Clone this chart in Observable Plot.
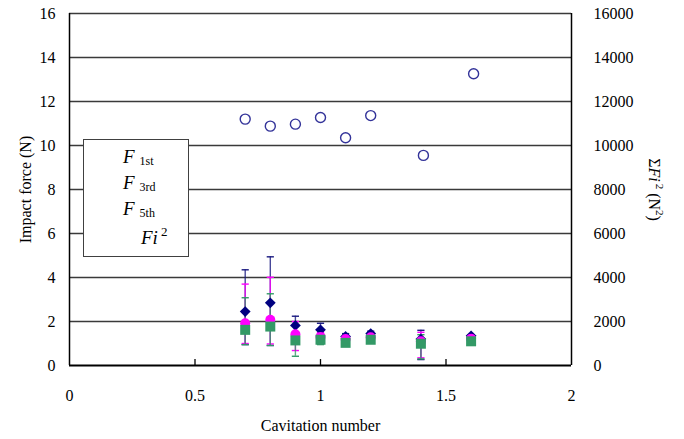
<!DOCTYPE html>
<html><head><meta charset="utf-8">
<script src="https://cdn.jsdelivr.net/npm/d3@7"></script>
<script src="https://cdn.jsdelivr.net/npm/@observablehq/plot@0.6"></script>
<style>
body{margin:0;background:#fff;}
#wrap{position:relative;width:684px;height:439px;font-family:"Liberation Serif","Times New Roman",serif;}
#wrap svg, #wrap svg text{font-family:"Liberation Serif","Times New Roman",serif !important;}
#legend{position:absolute;left:83px;top:139px;width:106px;height:118px;border:1px solid #404040;background:#fff;box-sizing:border-box;}
.li{position:absolute;font-size:19px;line-height:19px;font-style:italic;white-space:nowrap;color:#000;}
.sub{font-style:normal;font-size:12px;margin-left:5px;position:relative;top:2px;}
.sup{font-style:normal;font-size:13px;margin-left:3px;position:relative;top:-8px;}
</style></head><body><div id="wrap"></div>
<script>
// Data
const cav = [0.7, 0.8, 0.9, 1.0, 1.1, 1.2, 1.4, 1.6];
const F1st = [2.45, 2.85, 1.82, 1.62, 1.32, 1.45, 1.2, 1.35];
const F1stLo = [0.95, 0.91, 1.4, 1.3, 1.25, 1.35, 0.27, 1.25];
const F1stHi = [4.35, 4.94, 2.24, 1.92, 1.45, 1.56, 1.6, 1.4];
const F3rd = [1.92, 2.08, 1.42, 1.3, 1.2, 1.28, 1.1, 1.22];
const F3rdLo = [1.0, 0.98, 0.68, 1.2, 1.15, 1.2, 0.35, 1.15];
const F3rdHi = [3.7, 4.01, 2.0, 1.5, 1.3, 1.4, 1.51, 1.3];
const F5th = [1.62, 1.77, 1.14, 1.17, 1.03, 1.17, 0.99, 1.1];
const F5thLo = [0.95, 0.91, 0.42, 0.95, 0.95, 1.05, 0.3, 1.0];
const F5thHi = [3.08, 3.26, 1.52, 1.4, 1.15, 1.3, 1.4, 1.2];
const cavSum = [0.7, 0.8, 0.9, 1.0, 1.1, 1.2, 1.41, 1.61];
const sumFi2 = [11200, 10880, 10970, 11270, 10350, 11360, 9550, 13260];
const yTicks = [0, 2, 4, 6, 8, 10, 12, 14, 16];
const xTicks = [0, 0.5, 1, 1.5, 2];
const rightScale = 1000; // right axis (N^2) per left-axis unit

const rows = (ys, lo, hi) => cav.map((x, i) => ({x, y: ys[i], lo: lo[i], hi: hi[i]}));
const s1 = rows(F1st, F1stLo, F1stHi);
const s3 = rows(F3rd, F3rdLo, F3rdHi);
const s5 = rows(F5th, F5thLo, F5thHi);
const sums = cavSum.map((x, i) => ({x, v: sumFi2[i]}));

const diamond = {draw(ctx, size){ const s = Math.sqrt(size/Math.PI); ctx.moveTo(0,-s); ctx.lineTo(s,0); ctx.lineTo(0,s); ctx.lineTo(-s,0); ctx.closePath(); }};
const square = {draw(ctx, size){ const s = Math.sqrt(size/Math.PI); ctx.rect(-s,-s,2*s,2*s); }};
const cap = {draw(ctx, size){ const s = Math.sqrt(size/Math.PI); ctx.moveTo(-s,0); ctx.lineTo(s,0); }};

const errMarks = (data, color) => [
  Plot.ruleX(data, {x:"x", y1:"lo", y2:"hi", stroke: color, strokeWidth: 1.4, strokeOpacity: 0.8}),
  Plot.dot(data, {x:"x", y:"lo", symbol: cap, r: 3.6, stroke: color, strokeWidth: 1.4, fill: "none"}),
  Plot.dot(data, {x:"x", y:"hi", symbol: cap, r: 3.6, stroke: color, strokeWidth: 1.4, fill: "none"})
];

const plot = Plot.plot({
  width: 684, height: 439,
  marginLeft: 69, marginRight: 113, marginTop: 13, marginBottom: 74,
  style: {fontFamily: "'Liberation Serif', serif", fontSize: "16px", color: "black", background: "white"},
  x: {domain: [0, 2]},
  y: {domain: [0, 16]},
  marks: [
    Plot.ruleY(yTicks.slice(1), {stroke: "#3a3a3a", strokeWidth: 1.3}),
    Plot.axisY(yTicks, {anchor: "left", tickSize: 0, tickPadding: 14, fontSize: 16, label: "Impact force (N)", labelAnchor: "center", labelOffset: 50, labelArrow: "none"}),
    Plot.axisY(yTicks, {anchor: "right", tickSize: 0, tickPadding: 22, fontSize: 16, tickFormat: d => String(d * rightScale), label: "SUMLABEL", labelAnchor: "center", labelOffset: 77, labelArrow: "none"}),
    Plot.axisX(xTicks, {tickSize: 0, tickPadding: 24, fontSize: 16, tickFormat: d => String(d), label: "Cavitation number", labelAnchor: "center", labelOffset: 65, labelArrow: "none"}),
    Plot.ruleX(xTicks.slice(1, -1), {y1: 0, y2: 0.27, stroke: "black", strokeWidth: 1.3}),
    Plot.ruleX([0, 2], {stroke: "black", strokeWidth: 1.5}),
    Plot.ruleY([0], {stroke: "black", strokeWidth: 2}),
    ...errMarks(s1, "#1a1a80"),
    ...errMarks(s3, "#ff00ff"),
    ...errMarks(s5, "#339966"),
    Plot.dot(s1, {x: "x", y: "y", symbol: diamond, r: 5.4, fill: "#000080", stroke: "none"}),
    Plot.dot(s3, {x: "x", y: "y", r: 5, fill: "#ff00ff", stroke: "none"}),
    Plot.dot(s5, {x: "x", y: "y", symbol: square, r: 5, fill: "#339966", stroke: "none"}),
    Plot.dot(sums, {x: "x", y: d => d.v / rightScale, r: 5, fill: "none", stroke: "#333399", strokeWidth: 1.4})
  ]
});

// Rich text for the right-axis title, reading top to bottom
plot.querySelectorAll("text").forEach(t => {
  if (t.textContent === "SUMLABEL") {
    t.textContent = "";
    const tr = t.getAttribute("transform");
    if (tr) t.setAttribute("transform", tr.replace("rotate(-90)", "rotate(90)"));
    const ns = "http://www.w3.org/2000/svg";
    const parts = [["Σ", {}], ["Fi", {"font-style": "italic"}], ["2", {"font-size": "11", "dy": "-7", "dx": "2"}], [" (N", {"dy": "7"}], ["2", {"font-size": "11", "dy": "-7"}], [")", {"dy": "7"}]];
    for (const [s, attrs] of parts) {
      const ts = document.createElementNS(ns, "tspan");
      ts.textContent = s;
      for (const k in attrs) ts.setAttribute(k, attrs[k]);
      t.appendChild(ts);
    }
  }
});

const wrap = document.getElementById("wrap");
wrap.appendChild(plot);
const legend = document.createElement("div");
legend.id = "legend";
legend.innerHTML =
  '<div class="li" style="left:39px;top:7px">F<span class="sub">1st</span></div>' +
  '<div class="li" style="left:39px;top:33px">F<span class="sub">3rd</span></div>' +
  '<div class="li" style="left:39px;top:59px">F<span class="sub">5th</span></div>' +
  '<div class="li" style="left:57px;top:88px">Fi<span class="sup">2</span></div>';
wrap.appendChild(legend);
</script>
</body></html>
